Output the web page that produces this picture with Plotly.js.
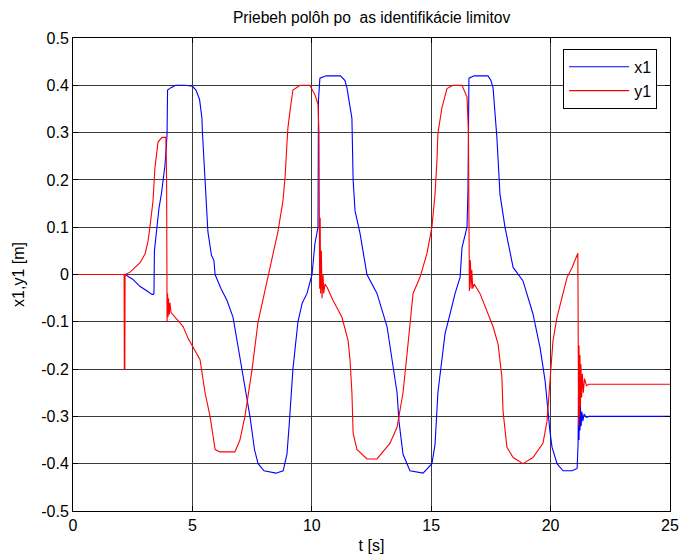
<!DOCTYPE html>
<html>
<head>
<meta charset="utf-8">
<script src="https://cdn.plot.ly/plotly-3.0.1.min.js"></script>
<style>html,body{margin:0;padding:0;background:#fff;}#chart{width:680px;height:556px;}</style>
</head>
<body>
<div id="chart"></div>
<script>
// x1 (blue) samples
const x1_t = [0,2.18,2.5,2.8,3.1,3.31,3.37,3.39,3.41,3.52,3.6,3.7,3.77,3.85,3.92,3.94,3.96,4.1,4.3,4.7,5.0,5.15,5.3,5.4,5.42,5.5,5.6,5.65,5.8,5.9,5.95,6.2,6.45,6.7,6.87,7.0,7.2,7.41,7.6,7.75,8.0,8.5,8.8,8.96,9.05,9.21,9.42,9.6,9.8,10.01,10.13,10.26,10.28,10.34,10.6,11.2,11.39,11.47,11.68,11.73,11.81,12.02,12.31,12.73,13.15,13.4,13.57,13.65,13.82,14.11,14.66,15.03,15.16,15.28,15.45,15.58,15.79,16.0,16.21,16.29,16.5,16.54,16.58,16.8,17.38,17.5,17.59,17.75,17.88,18.09,18.43,18.63,18.84,19.26,19.56,19.77,19.89,19.97,20.06,20.27,20.52,20.9,21.11,21.15,21.17,21.19,21.21,21.23,21.25,21.28,21.31,21.35,21.4,21.5,21.6,25];
const x1_v = [0,0,-0.01,-0.025,-0.035,-0.042,-0.042,-0.04,0.05,0.1,0.14,0.17,0.2,0.23,0.28,0.3,0.39,0.395,0.4,0.4,0.398,0.39,0.37,0.33,0.3,0.23,0.15,0.09,0.04,0.03,0.0,-0.03,-0.055,-0.09,-0.14,-0.18,-0.24,-0.3,-0.37,-0.4,-0.415,-0.42,-0.415,-0.38,-0.32,-0.2,-0.1,-0.06,-0.04,0.0,0.065,0.1,0.37,0.415,0.42,0.42,0.41,0.395,0.33,0.2,0.135,0.087,0.0,-0.04,-0.11,-0.2,-0.25,-0.31,-0.38,-0.415,-0.42,-0.4,-0.36,-0.25,-0.18,-0.125,-0.083,-0.04,-0.006,0.057,0.1,0.18,0.415,0.42,0.42,0.41,0.395,0.29,0.17,0.1,0.015,0.0,-0.013,-0.083,-0.155,-0.225,-0.29,-0.33,-0.365,-0.4,-0.415,-0.415,-0.41,-0.36,-0.25,-0.35,-0.27,-0.33,-0.28,-0.32,-0.29,-0.31,-0.295,-0.302,-0.3,-0.3];

// y1 (red) samples
const y1_t = [0,2.14,2.15,2.17,2.18,2.39,2.6,2.81,3.02,3.14,3.22,3.35,3.43,3.56,3.73,3.89,3.92,3.94,3.96,3.98,4.0,4.03,4.06,4.1,4.27,4.61,4.82,5.11,5.32,5.53,5.74,5.95,6.16,6.78,6.99,7.2,7.5,7.75,8.17,8.58,8.79,8.88,8.96,9.0,9.09,9.21,9.51,9.92,10.13,10.26,10.3,10.33,10.35,10.37,10.4,10.43,10.47,10.5,10.55,10.64,10.89,11.26,11.52,11.6,11.68,11.73,11.89,12.31,12.73,13.27,13.57,13.69,13.82,13.99,14.11,14.24,14.53,14.82,15.03,15.16,15.24,15.28,15.45,15.66,15.91,16.29,16.5,16.56,16.6,16.64,16.67,16.7,16.74,16.8,17.04,17.38,17.59,17.8,17.88,17.96,18.01,18.17,18.43,18.84,19.26,19.68,19.85,19.97,20.1,20.27,20.48,20.69,20.9,21.11,21.14,21.15,21.17,21.19,21.21,21.23,21.25,21.27,21.3,21.33,21.37,21.42,21.5,21.6,25];
const y1_v = [0,0,-0.2,-0.2,0,0.005,0.015,0.025,0.044,0.07,0.1,0.155,0.225,0.28,0.29,0.29,0.2,-0.1,-0.04,-0.09,-0.05,-0.085,-0.06,-0.08,-0.09,-0.11,-0.135,-0.16,-0.18,-0.25,-0.3,-0.37,-0.375,-0.375,-0.35,-0.3,-0.2,-0.1,0.0,0.09,0.155,0.205,0.277,0.31,0.347,0.39,0.4,0.4,0.38,0.36,0.3,-0.03,0.12,-0.04,0.05,-0.05,0.0,-0.04,-0.02,-0.027,-0.055,-0.09,-0.14,-0.18,-0.25,-0.335,-0.37,-0.39,-0.39,-0.357,-0.323,-0.29,-0.25,-0.167,-0.104,-0.04,-0.006,0.044,0.1,0.17,0.24,0.298,0.353,0.393,0.4,0.4,0.375,0.3,-0.035,0.03,-0.03,0.01,-0.03,-0.02,-0.04,-0.083,-0.11,-0.147,-0.18,-0.217,-0.29,-0.365,-0.387,-0.4,-0.387,-0.357,-0.31,-0.217,-0.14,-0.09,-0.048,-0.006,0.015,0.044,0.045,-0.05,-0.32,-0.15,-0.3,-0.17,-0.28,-0.19,-0.26,-0.21,-0.25,-0.22,-0.235,-0.232,-0.232];

const xTickVals = [0,5,10,15,20,25];
const xTickText = ['0','5','10','15','20','25'];
const yTickVals = [-0.5,-0.4,-0.3,-0.2,-0.1,0,0.1,0.2,0.3,0.4,0.5];
const yTickText = ['-0.5','-0.4','-0.3','-0.2','-0.1','0','0.1','0.2','0.3','0.4','0.5'];

const FONT = 'Liberation Sans, Arial, sans-serif';

const traces = [
  {x: x1_t, y: x1_v, type: 'scatter', mode: 'lines', name: 'x1', line: {color: '#0000FF', width: 1.1}},
  {x: y1_t, y: y1_v, type: 'scatter', mode: 'lines', name: 'y1', line: {color: '#FF0000', width: 1.1}}
];

const layout = {
  width: 680, height: 556,
  margin: {l: 73, r: 10, t: 38, b: 45, pad: 0},
  paper_bgcolor: '#ffffff', plot_bgcolor: '#ffffff',
  font: {family: FONT, size: 16, color: '#000'},
  title: {text: 'Priebeh polôh po  as identifikácie limitov', font: {family: FONT, size: 15.6, color: '#000'}, x: 0.5465, xanchor: 'center', y: 0.968, yanchor: 'middle'},
  xaxis: {
    range: [0, 25], tickvals: xTickVals, ticktext: xTickText,
    showgrid: true, gridcolor: '#3a3a3a', gridwidth: 1,
    zeroline: false, showline: true, linecolor: '#000', linewidth: 1, mirror: 'ticks',
    ticks: 'inside', ticklen: 5, tickcolor: '#000',
    tickfont: {family: FONT, size: 16, color: '#000'},
    title: {text: 't [s]', font: {family: FONT, size: 16, color: '#000'}, standoff: 6}
  },
  yaxis: {
    range: [-0.5, 0.5], tickvals: yTickVals, ticktext: yTickText,
    showgrid: true, gridcolor: '#3a3a3a', gridwidth: 1,
    zeroline: false, showline: true, linecolor: '#000', linewidth: 1, mirror: 'ticks',
    ticks: 'inside', ticklen: 5, tickcolor: '#000',
    tickfont: {family: FONT, size: 16, color: '#000'},
    title: {text: 'x1,y1 [m]', font: {family: FONT, size: 16, color: '#000'}, standoff: 12}
  },
  showlegend: true,
  legend: {x: 0.821, y: 0.977, xanchor: 'left', yanchor: 'top', bgcolor: '#fff', bordercolor: '#000', borderwidth: 1,
           font: {family: FONT, size: 16, color: '#000'}, tracegroupgap: 0, itemwidth: 60}
};

Plotly.newPlot('chart', traces, layout, {staticPlot: true, displayModeBar: false});
</script>
</body>
</html>
